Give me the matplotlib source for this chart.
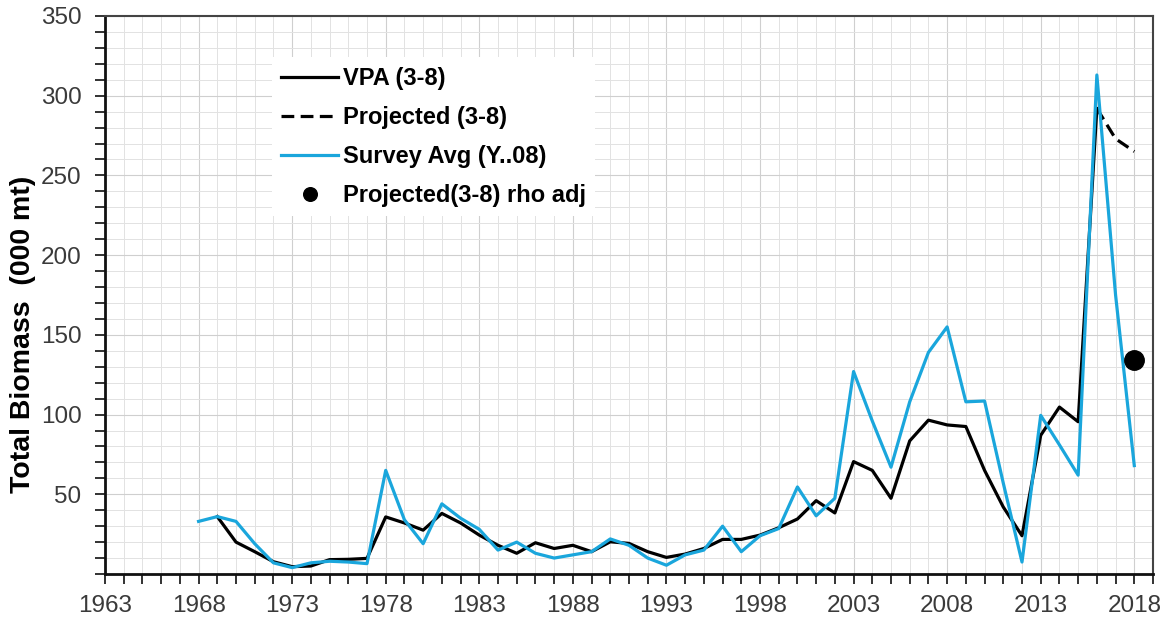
import matplotlib
matplotlib.use('Agg')
import matplotlib.pyplot as plt
from matplotlib.ticker import MultipleLocator
import numpy as np

# データ
survey_years = list(range(1968, 2019))
survey_avg = [33, 36, 33, 19, 7, 4, 7, 8, 7.5, 6.5,
              65, 34, 19, 44, 35, 28, 15, 20, 13, 10,
              12, 14, 22, 18, 10, 5.5, 12, 15, 30, 14,
              24, 28.5, 54.6, 36.5, 47.5, 127, 96, 67, 108, 139,
              155, 108, 108.5, 57, 7.5, 99.5, 81, 62, 313, 175,
              68]

vpa_years = list(range(1969, 2017))
vpa = [36, 20, 14, 7.7, 4.6, 5, 9, 9.2, 9.8, 35.8,
       32, 27.5, 38, 32, 24.4, 18, 13, 19.6, 16, 18,
       14, 20.2, 19.2, 14, 10.4, 12.5, 16, 21.7, 21.7, 24.4,
       29, 34.5, 46, 38.3, 70.5, 65, 47.5, 83.5, 96.5, 93.5,
       92.5, 65, 42, 24, 87, 104.7, 95.5, 292]

proj_years = [2016, 2017, 2018]
projected = [292, 273, 265]

rho_year = [2018]
rho_adj = [134]

# 設定
BLUE = '#1aa6dc'
plt.rcParams['font.family'] = ['Liberation Sans', 'DejaVu Sans']

fig = plt.figure(figsize=(11.67, 6.22), dpi=100)
ax = fig.add_axes([105 / 1167, 1 - 574 / 622, 1048 / 1167, 558 / 622])

ax.plot(vpa_years, vpa, color='black', lw=2.3, label='VPA (3-8)', zorder=3)
ax.plot(proj_years, projected, color='black', lw=2.3, dashes=(4, 2),
        label='Projected (3-8)', zorder=3)
ax.plot(survey_years, survey_avg, color=BLUE, lw=2.3,
        label='Survey Avg (Y..08)', zorder=4)
ax.plot(rho_year, rho_adj, 'o', color='black', markersize=14,
        label='Projected(3-8) rho adj', zorder=5)

# 軸
ax.set_xlim(1963, 2019)
ax.set_ylim(0, 350)
ax.set_xticks(np.arange(1963, 2019, 5))
ax.xaxis.set_minor_locator(MultipleLocator(1))
ax.set_yticks(np.arange(50, 351, 50))
ax.yaxis.set_minor_locator(MultipleLocator(10))

ax.grid(which='major', color='#cfcfcf', lw=0.8)
ax.grid(which='minor', color='#e2e2e2', lw=0.7)
ax.set_axisbelow(True)

ax.tick_params(which='both', direction='out', length=7, width=1.3,
               colors='#222222', labelcolor='#3a3a3a', labelsize=17.5)
ax.tick_params(axis='y', pad=10)
ax.tick_params(axis='x', pad=8)
for side in ['left', 'bottom']:
    ax.spines[side].set_linewidth(2)
    ax.spines[side].set_color('#111111')
for side in ['top', 'right']:
    ax.spines[side].set_linewidth(1.5)
    ax.spines[side].set_color('#444444')

fig.text(0.02, 0.463, 'Total Biomass  (000 mt)', rotation=90,
         ha='center', va='center', fontsize=20.5, fontweight='bold')

leg = ax.legend(loc='upper left', bbox_to_anchor=(0.148, 0.947),
                frameon=True, fancybox=False, framealpha=1,
                facecolor='white', edgecolor='none',
                prop={'size': 17, 'weight': 'bold'},
                handlelength=2.4, handletextpad=0.2, labelspacing=0.68,
                markerscale=0.7, borderpad=0.4)

fig.savefig('out.png', dpi=100)
